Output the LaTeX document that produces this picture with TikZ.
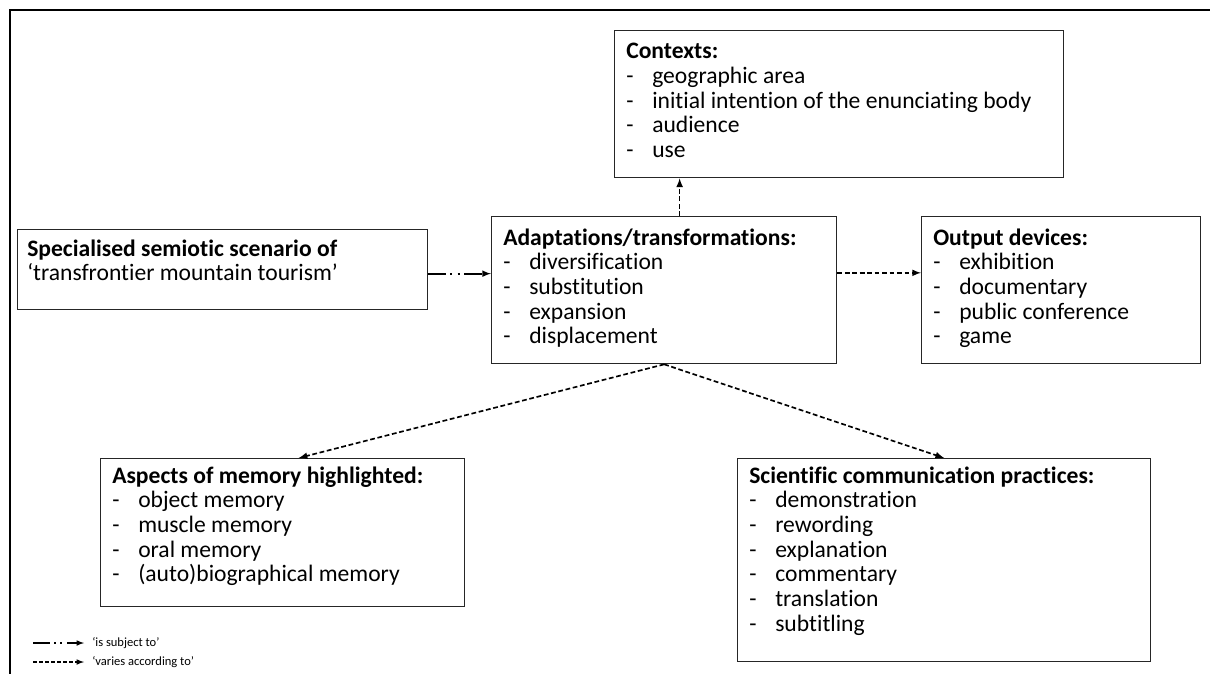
\documentclass[tikz,border=0pt]{standalone}
\usepackage{fontspec}
\setmainfont[Ligatures=NoCommon]{Carlito}
\usetikzlibrary{arrows}

\tikzset{
  box/.style={draw=black!85, line width=1pt, anchor=north west, inner sep=0pt},
  txt/.style={anchor=base west, inner sep=0pt, font=\fontsize{17.7}{18.5}\selectfont},
  leg/.style={anchor=west, inner xsep=6pt, inner ysep=0pt, font=\fontsize{9.4}{11}\selectfont},
  vary/.style={-latex, line width=1.25pt, dash pattern=on 3.6pt off 2pt},
  subj/.style={-latex, line width=1.25pt, dash pattern=on 13.5pt off 3pt on 1.5pt off 4pt on 1.5pt off 3.5pt},
}
\newcommand{\itm}[1]{-&#1\\}
\newcommand{\ttl}[1]{\multicolumn{2}{@{}l@{}}{\bfseries #1}\\}

\begin{document}
\begin{tikzpicture}[x=0.75pt, y=0.75pt]
        \useasboundingbox (0,0) rectangle (1210,-674);
        \draw[line width=1.1pt] (1210,-10) -- (10,-10) -- (10,-674);

        % boxes
        \node[box, minimum width=336.75pt, minimum height=110.25pt] (ctx) at (614,-30) {};
        \node[box, minimum width=307.5pt, minimum height=60pt] (scen) at (17,-229) {};
        \node[box, minimum width=258.75pt, minimum height=110.25pt] (adapt) at (491,-216) {};
        \node[box, minimum width=209.25pt, minimum height=110.25pt] (out) at (921,-216) {};
        \node[box, minimum width=273pt, minimum height=111pt] (asp) at (100,-458) {};
        \node[box, minimum width=309.75pt, minimum height=152.25pt] (sci) at (737,-458) {};

        % texts
        \node[txt] (ctxt) at ([shift={(12,-29)}]ctx.north west) {\begin{tabular}[t]{@{}p{19.5pt}@{}l@{}}
          \ttl{Contexts:}
          \itm{geographic area}
          \itm{initial intention of the enunciating body}
          \itm{audience}
          \itm{use}
        \end{tabular}};
        \node[txt] (scent) at ([shift={(10,-27)}]scen.north west) {\begin{tabular}[t]{@{}l@{}}
          \bfseries Specialised semiotic scenario of\\
          ‘transfrontier mountain tourism’\\
        \end{tabular}};
        \node[txt] (adaptt) at ([shift={(12,-29)}]adapt.north west) {\begin{tabular}[t]{@{}p{19.5pt}@{}l@{}}
          \ttl{Adaptations/transformations:}
          \itm{diversification}
          \itm{substitution}
          \itm{expansion}
          \itm{displacement}
        \end{tabular}};
        \node[txt] (outt) at ([shift={(12,-29)}]out.north west) {\begin{tabular}[t]{@{}p{19.5pt}@{}l@{}}
          \ttl{Output devices:}
          \itm{exhibition}
          \itm{documentary}
          \itm{public conference}
          \itm{game}
        \end{tabular}};
        \node[txt] (aspt) at ([shift={(12,-25)}]asp.north west) {\begin{tabular}[t]{@{}p{19.5pt}@{}l@{}}
          \ttl{Aspects of memory highlighted:}
          \itm{object memory}
          \itm{muscle memory}
          \itm{oral memory}
          \itm{(auto)biographical memory}
        \end{tabular}};
        \node[txt] (scit) at ([shift={(12,-25)}]sci.north west) {\begin{tabular}[t]{@{}p{19.5pt}@{}l@{}}
          \ttl{Scientific communication practices:}
          \itm{demonstration}
          \itm{rewording}
          \itm{explanation}
          \itm{commentary}
          \itm{translation}
          \itm{subtitling}
        \end{tabular}};

        % connectors
        \coordinate (sc) at ([yshift=-3pt]scen.east);
        \draw[subj] (sc) -- (sc -| adapt.west);
        \coordinate (up) at ([xshift=11.6pt]adapt.north);
        \draw[vary] (up) -- (up |- ctx.south);
        \coordinate (rt) at ([yshift=13pt]adapt.east);
        \draw[vary] (rt) -- (rt -| out.west);
        \draw[vary] (adapt.south) -- ([xshift=12pt]asp.north);
        \draw[vary] (adapt.south) -- (sci.north);

        % legend
        \node[leg] (l1) at (84,-643) {‘is subject to’};
        \coordinate (l1s) at (33,-643);
        \draw[-latex, line width=0.9pt, dash pattern=on 12.75pt off 3pt on 1.5pt off 3pt on 1.5pt off 3.75pt] (l1s) -- (l1.west);
        \node[leg] (l2) at (84,-662) {‘varies according to’};
        \coordinate (l2s) at (33,-662);
        \draw[-latex, line width=0.9pt, dash pattern=on 3pt off 1.5pt] (l2s) -- (l2.west);
\end{tikzpicture}
\end{document}
